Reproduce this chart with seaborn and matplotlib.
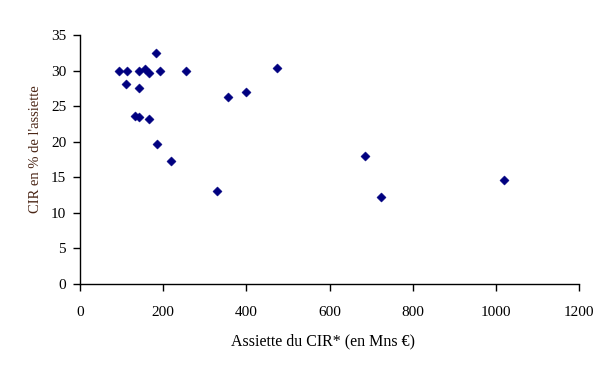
import matplotlib
matplotlib.use("Agg")
import matplotlib.pyplot as plt
import seaborn as sns
import pandas as pd

assiette = [94.5, 112.3, 183.5, 142.6, 157.0, 165.2, 192.4, 255.6, 474.5, 109.9,
            142.6, 355.2, 400.0, 132.3, 142.6, 166.0, 185.9, 219.6, 330.2, 686.2,
            1019.0, 724.6]
cir_pct = [29.96, 29.96, 32.6, 29.96, 30.3, 29.7, 29.96, 29.96, 30.4, 28.2,
           27.6, 26.4, 27.0, 23.6, 23.5, 23.2, 19.7, 17.3, 13.1, 18.0,
           14.6, 12.3]
x_ticks = [0, 200, 400, 600, 800, 1000, 1200]
y_ticks = [0, 5, 10, 15, 20, 25, 30, 35]

df = pd.DataFrame({"x": assiette, "y": cir_pct})

sns.set_style("white")
plt.rcParams["font.family"] = ["Liberation Serif", "DejaVu Serif"]

fig = plt.figure(figsize=(6.16, 3.76), dpi=100)
ax = fig.add_axes([0.1299, 0.2447, 0.8101, 0.6609])

sns.scatterplot(data=df, x="x", y="y", marker="D", s=22, color="#000080",
                edgecolor="#000080", linewidth=0.3, ax=ax, legend=False, zorder=3)

ax.set_xlim(0, 1200)
ax.set_ylim(0, 35)
ax.set_xticks(x_ticks)
ax.set_yticks(y_ticks)
ax.tick_params(axis="both", direction="out", length=5, width=1, color="black",
               labelsize=11, labelcolor="black", bottom=True, left=True)
ax.tick_params(axis="y", pad=5)
ax.tick_params(axis="x", pad=11)
for s in ["top", "right"]:
    ax.spines[s].set_visible(False)
for s in ["left", "bottom"]:
    ax.spines[s].set_visible(True)
    ax.spines[s].set_color("black")
    ax.spines[s].set_linewidth(1)

ax.set_xlabel("Assiette du CIR* (en Mns €)", fontsize=11.5, color="black",
              va="center", ha="center")
ax.xaxis.set_label_coords(0.486, -0.232)
ax.set_ylabel("CIR en % de l'assiette", fontsize=10.5, color="#4a2515",
              va="center", ha="center")
ax.yaxis.set_label_coords(-0.0888, 0.543)

fig.savefig("out.png", dpi=100)
